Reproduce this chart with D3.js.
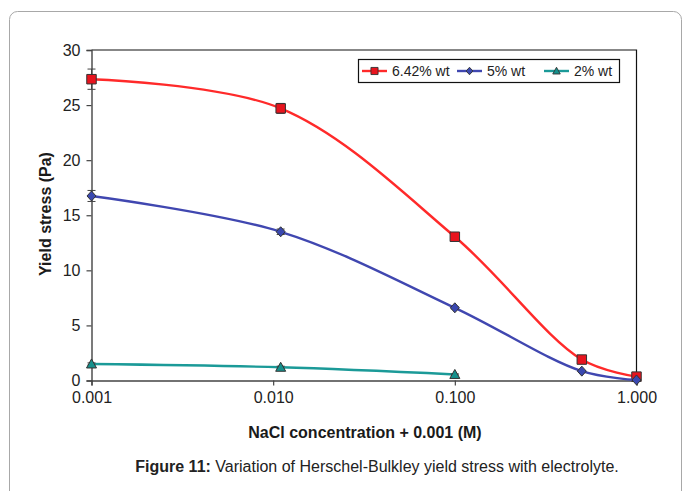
<!DOCTYPE html>
<html>
<head>
<meta charset="utf-8">
<script src="https://cdn.jsdelivr.net/npm/d3@7"></script>
<style>
    body { margin: 0; background: #fff; }
    svg text { font-family: "Liberation Sans", Arial, sans-serif; }
</style>
</head>
<body>
<svg id="chart" width="683" height="491"></svg>
<script>
// NaCl concentration + 0.001 (M)
var concentration = [0.001, 0.011, 0.1, 0.5, 1.0];
var concentration2 = [0.001, 0.011, 0.1];

// yield stress (Pa) per solids content
var stress642 = [27.35, 24.7, 13.05, 1.9, 0.35];
var stress5 = [16.75, 13.5, 6.6, 0.85, 0.05];
var stress2 = [1.5, 1.2, 0.55];

// error bar half-widths (Pa)
var err642 = [0.92, 0.45, 0.2, 0.1, 0.1];
var err5 = [0.5, 0.25, 0.1, 0.05, 0.05];
var err2 = [0.1, 0.1, 0.05];

var seriesNames = ["6.42% wt", "5% wt", "2% wt"];
var yTicks = [0, 5, 10, 15, 20, 25, 30];
var xTicks = [0.001, 0.01, 0.1, 1];

var svg = d3.select("#chart");

// outer rounded frame
svg.append("rect")
    .attr("x", 9.5).attr("y", 11.5)
    .attr("width", 672).attr("height", 500)
    .attr("rx", 8)
    .attr("fill", "none")
    .attr("stroke", "#a8a8a8");

var plotLeft = 91.5, plotRight = 636.5, plotTop = 50, plotBottom = 380.5;

var x = d3.scaleLog().domain([0.001, 1]).range([plotLeft, plotRight]);
var y = d3.scaleLinear().domain([0, 30]).range([plotBottom, plotTop]);

// plot frame (top and right)
svg.append("path")
    .attr("d", "M" + plotLeft + "," + plotTop + "H" + plotRight + "V" + plotBottom)
    .attr("fill", "none")
    .attr("stroke", "#111")
    .attr("stroke-width", 1.2);

var yAxis = svg.append("g")
    .attr("transform", "translate(" + plotLeft + ",0)")
    .call(d3.axisLeft(y).tickValues(yTicks).tickSize(5).tickPadding(6).tickFormat(d3.format("d")));
var xAxis = svg.append("g")
    .attr("transform", "translate(0," + plotBottom + ")")
    .call(d3.axisBottom(x).tickValues(xTicks).tickSize(5).tickPadding(6).tickFormat(d3.format(".3f")));

[yAxis, xAxis].forEach(function (g) {
    g.select(".domain").attr("stroke", "#444").attr("stroke-width", 1.4);
    g.selectAll(".tick line").attr("stroke", "#444").attr("stroke-width", 1.2);
    g.selectAll(".tick text").attr("fill", "#222").style("font-size", "16px");
});

// axis titles
svg.append("text")
    .attr("x", 365).attr("y", 438)
    .attr("text-anchor", "middle")
    .style("font-size", "16px").style("font-weight", "bold")
    .attr("fill", "#1a1a1a")
    .text("NaCl concentration + 0.001 (M)");

svg.append("text")
    .attr("transform", "translate(51,214) rotate(-90)")
    .attr("text-anchor", "middle")
    .style("font-size", "16px").style("font-weight", "bold")
    .attr("fill", "#1a1a1a")
    .text("Yield stress (Pa)");

var series = [
    {name: seriesNames[0], xs: concentration, ys: stress642, err: err642, line: "#ff2a2a", fill: "#e8141e", marker: "square"},
    {name: seriesNames[1], xs: concentration, ys: stress5, err: err5, line: "#4047b0", fill: "#3a48b0", marker: "diamond"},
    {name: seriesNames[2], xs: concentration2, ys: stress2, err: err2, line: "#1b9a98", fill: "#15908c", marker: "triangle"}
];

var line = d3.line()
    .x(function (d) { return x(d[0]); })
    .y(function (d) { return y(d[1]); })
    .curve(d3.curveCatmullRom.alpha(0.5));

function markerPath(type) {
    if (type === "square") return d3.symbol().type(d3.symbolSquare).size(90)();
    if (type === "diamond") return "M0,-5L4.5,0L0,5L-4.5,0Z";
    return "M0,-5L5,4L-5,4Z";
}

series.forEach(function (s) {
    var pts = s.xs.map(function (c, i) { return [c, s.ys[i], s.err[i]]; });

    svg.append("path")
        .datum(pts)
        .attr("d", line)
        .attr("fill", "none")
        .attr("stroke", s.line)
        .attr("stroke-width", 2.4);

    // error bars
    var eb = svg.append("g").attr("stroke", "#444").attr("stroke-width", 1);
    pts.forEach(function (p) {
        var cx = x(p[0]);
        eb.append("line").attr("x1", cx).attr("x2", cx).attr("y1", y(p[1] - p[2])).attr("y2", y(p[1] + p[2]));
        eb.append("line").attr("x1", cx - 4).attr("x2", cx + 4).attr("y1", y(p[1] - p[2])).attr("y2", y(p[1] - p[2]));
        eb.append("line").attr("x1", cx - 4).attr("x2", cx + 4).attr("y1", y(p[1] + p[2])).attr("y2", y(p[1] + p[2]));
    });

    svg.append("g").selectAll("path")
        .data(pts)
        .join("path")
        .attr("transform", function (d) { return "translate(" + x(d[0]) + "," + y(d[1]) + ")"; })
        .attr("d", markerPath(s.marker))
        .attr("fill", s.fill)
        .attr("stroke", "#333")
        .attr("stroke-width", 1);
});

// legend
var legend = svg.append("g");
legend.append("rect")
    .attr("x", 358.5).attr("y", 59.5)
    .attr("width", 261).attr("height", 23)
    .attr("fill", "#fff")
    .attr("stroke", "#111")
    .attr("stroke-width", 1.2);

var legendX = [362, 457, 544];
series.forEach(function (s, i) {
    var lx = legendX[i];
    legend.append("line")
        .attr("x1", lx).attr("x2", lx + 25)
        .attr("y1", 71).attr("y2", 71)
        .attr("stroke", s.line).attr("stroke-width", 2.4);
    legend.append("path")
        .attr("transform", "translate(" + (lx + 12.5) + ",71) scale(0.75)")
        .attr("d", markerPath(s.marker))
        .attr("fill", s.fill)
        .attr("stroke", "#333")
        .attr("stroke-width", 1.2);
    legend.append("text")
        .attr("x", lx + 30).attr("y", 76)
        .style("font-size", "14px")
        .attr("fill", "#222")
        .text(s.name);
});

// caption
var caption = svg.append("text")
    .attr("x", 377).attr("y", 472)
    .attr("text-anchor", "middle")
    .style("font-size", "16px")
    .attr("fill", "#222");
caption.append("tspan").style("font-weight", "bold").text("Figure 11:");
caption.append("tspan").text(" Variation of Herschel-Bulkley yield stress with electrolyte.");
</script>
</body>
</html>
